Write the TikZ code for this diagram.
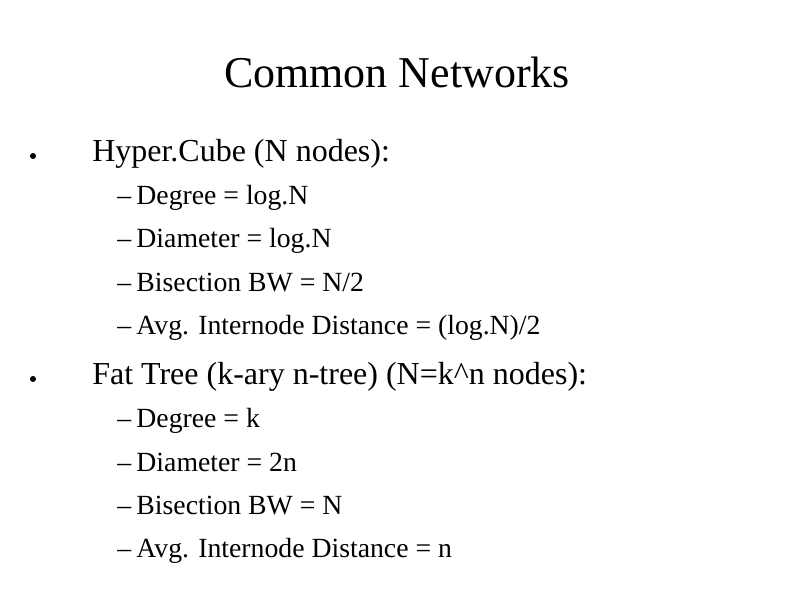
\documentclass[tikz,border=0pt]{standalone}
\usepackage{fontspec}
\setmainfont{Liberation Serif}
\begin{document}
\begin{tikzpicture}[x=0.75pt,y=-0.75pt,
  ttl/.style={font=\fontsize{33}{36}\selectfont,anchor=base,inner sep=0},
  lone/.style={font=\fontsize{24}{28}\selectfont,anchor=base west,inner sep=0},
  ltwo/.style={font=\fontsize{20.8}{24}\selectfont,anchor=base west,inner sep=0},
  dot/.style={fill=black,circle,inner sep=0,minimum size=4.5pt}]
\useasboundingbox (0,0) rectangle (794,595);
\node[ttl] (t) at (397,88) {Common Networks};
\node[dot] (b1) at (33,156) {};
\node[lone] (h) at (92,162) {Hyper.Cube (N nodes):};
\node[ltwo] (h1) at (117,205) {–\hspace{4pt}Degree = log.N};
\node[ltwo] (h2) at (117,248) {–\hspace{4pt}Diameter = log.N};
\node[ltwo] (h3) at (117,292) {–\hspace{4pt}Bisection BW = N/2};
\node[ltwo] (h4) at (117,335) {–\hspace{4pt}Avg. Internode Distance = (log.N)/2};
\node[dot] (b2) at (33,379) {};
\node[lone] (f) at (92,385) {Fat Tree (k-ary n-tree) (N=k\^{}n nodes):};
\node[ltwo] (f1) at (117,428) {–\hspace{4pt}Degree = k};
\node[ltwo] (f2) at (117,472) {–\hspace{4pt}Diameter = 2n};
\node[ltwo] (f3) at (117,515) {–\hspace{4pt}Bisection BW = N};
\node[ltwo] (f4) at (117,558) {–\hspace{4pt}Avg. Internode Distance = n};
\end{tikzpicture}
\end{document}
